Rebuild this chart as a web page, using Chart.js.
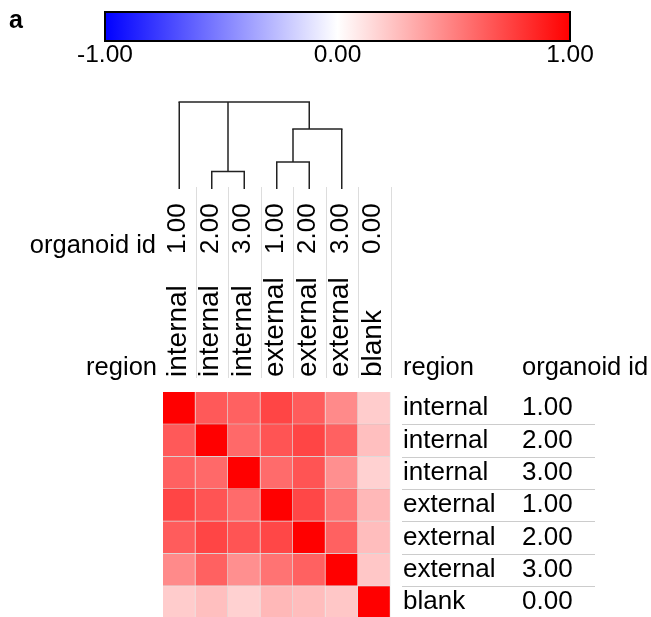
<!DOCTYPE html>
<html>
<head>
<meta charset="utf-8">
<script src="https://cdn.jsdelivr.net/npm/chart.js@4"></script>
<style>
  html, body { margin: 0; padding: 0; background: #fff; overflow: hidden; }
</style>
</head>
<body>
<canvas id="corr-heatmap" width="651" height="626"></canvas>
<script>
// samples (rows and columns share the same order)
var regions = ['internal', 'internal', 'internal', 'external', 'external', 'external', 'blank'];
var organoidIds = ['1.00', '2.00', '3.00', '1.00', '2.00', '3.00', '0.00'];

// correlation values, one row per sample
var corrInternal1 = [1.00, 0.65, 0.62, 0.73, 0.64, 0.46, 0.20];
var corrInternal2 = [0.65, 1.00, 0.59, 0.67, 0.73, 0.62, 0.25];
var corrInternal3 = [0.62, 0.59, 1.00, 0.58, 0.67, 0.44, 0.18];
var corrExternal1 = [0.73, 0.67, 0.58, 1.00, 0.72, 0.55, 0.28];
var corrExternal2 = [0.64, 0.73, 0.67, 0.72, 1.00, 0.62, 0.26];
var corrExternal3 = [0.46, 0.62, 0.44, 0.55, 0.62, 1.00, 0.22];
var corrBlank     = [0.20, 0.25, 0.18, 0.28, 0.26, 0.22, 1.00];
var corrMatrix = [corrInternal1, corrInternal2, corrInternal3, corrExternal1, corrExternal2, corrExternal3, corrBlank];

// colour scale
var scaleMin = -1;
var scaleMax = 1;
var scaleTicks = ['-1.00', '0.00', '1.00'];

// column dendrogram: children are column indexes or earlier node names, height 0..1
var dendroNodes = [
    { name: 'n0', children: [1, 2], height: 0.20 },
    { name: 'n1', children: [3, 4], height: 0.31 },
    { name: 'n2', children: ['n1', 5], height: 0.69 },
    { name: 'n3', children: [0, 'n0', 'n2'], height: 1.00 }
];

var FONT = '"Liberation Sans", Arial, Helvetica, sans-serif';

function corrColor(v) {
    if (v >= 0) {
        var c = Math.round(255 * (1 - v));
        return 'rgb(255,' + c + ',' + c + ')';
    }
    var b = Math.round(255 * (1 + v));
    return 'rgb(' + b + ',' + b + ',255)';
}

// labels, dendrogram and colour bar
var decorPlugin = {
    id: 'decor',
    afterDraw: function (chart) {
        var ctx = chart.ctx;
        var xs = chart.scales.x;
        var ys = chart.scales.y;
        var half = (xs.getPixelForValue(1) - xs.getPixelForValue(0)) / 2;
        var n = regions.length;

        ctx.save();
        ctx.fillStyle = '#000';

        // panel letter
        ctx.font = 'bold 25px ' + FONT;
        ctx.textAlign = 'left';
        ctx.textBaseline = 'middle';
        ctx.fillText('a', 9, 21);

        // colour bar
        var barL = 105, barR = 570, barT = 12, barB = 41;
        var grad = ctx.createLinearGradient(barL, 0, barR, 0);
        grad.addColorStop(0, corrColor(scaleMin));
        grad.addColorStop(0.5, corrColor(0));
        grad.addColorStop(1, corrColor(scaleMax));
        ctx.fillStyle = grad;
        ctx.fillRect(barL, barT, barR - barL, barB - barT);
        ctx.strokeStyle = '#000';
        ctx.lineWidth = 2;
        ctx.strokeRect(barL, barT, barR - barL, barB - barT);
        ctx.fillStyle = '#000';
        ctx.font = '24.5px ' + FONT;
        ctx.textAlign = 'center';
        scaleTicks.forEach(function (t, i) {
            var x = barL + (barR - barL) * i / (scaleTicks.length - 1);
            ctx.fillText(t, x, 55);
        });

        // vertical separators in the column label block
        ctx.strokeStyle = '#dddddd';
        ctx.lineWidth = 1;
        for (var i = 0; i < n; i++) {
            var sx = Math.round(xs.getPixelForValue(i) + half) + 0.5;
            ctx.beginPath();
            ctx.moveTo(sx, 187);
            ctx.lineTo(sx, 378);
            ctx.stroke();
        }

        // column labels (rotated)
        ctx.textAlign = 'left';
        ctx.textBaseline = 'middle';
        for (var c = 0; c < n; c++) {
            var cx = xs.getPixelForValue(c) - 1;
            ctx.save();
            ctx.translate(cx, 254);
            ctx.rotate(-Math.PI / 2);
            ctx.font = '26px ' + FONT;
            ctx.fillText(organoidIds[c], 0, 0);
            ctx.restore();
            ctx.save();
            ctx.translate(cx, 377);
            ctx.rotate(-Math.PI / 2);
            ctx.font = '28px ' + FONT;
            ctx.fillText(regions[c], 0, 0);
            ctx.restore();
        }

        // row header names on the left
        ctx.font = '25.5px ' + FONT;
        ctx.textAlign = 'right';
        ctx.fillText('organoid id', 156, 246);
        ctx.fillText('region', 157, 368);

        // dendrogram
        var leafY = 189, topY = 102;
        var nodes = {};
        function leafCount(ch) { return typeof ch === 'number' ? 1 : nodes[ch].count; }
        function posOf(ch) {
            if (typeof ch === 'number') return { x: xs.getPixelForValue(ch), y: leafY };
            return nodes[ch];
        }
        ctx.strokeStyle = '#222';
        ctx.lineWidth = 1.5;
        dendroNodes.forEach(function (nd) {
            var y = leafY - nd.height * (leafY - topY);
            var sum = 0, cnt = 0, minX = Infinity, maxX = -Infinity;
            nd.children.forEach(function (ch) {
                var p = posOf(ch);
                var k = leafCount(ch);
                sum += p.x * k;
                cnt += k;
                minX = Math.min(minX, p.x);
                maxX = Math.max(maxX, p.x);
                ctx.beginPath();
                ctx.moveTo(p.x, p.y);
                ctx.lineTo(p.x, y);
                ctx.stroke();
            });
            ctx.beginPath();
            ctx.moveTo(minX - 0.75, y);
            ctx.lineTo(maxX + 0.75, y);
            ctx.stroke();
            nodes[nd.name] = { x: sum / cnt, y: y, count: cnt };
        });

        // row labels on the right
        ctx.fillStyle = '#000';
        ctx.textAlign = 'left';
        ctx.font = '25.5px ' + FONT;
        ctx.fillText('region', 403, 368);
        ctx.fillText('organoid id', 522, 368);
        ctx.font = '26px ' + FONT;
        for (var r = 0; r < n; r++) {
            var ry = ys.getPixelForValue(r + 0.5);
            ctx.fillText(regions[r], 403, ry);
            ctx.fillText(organoidIds[r], 522, ry);
        }
        ctx.strokeStyle = '#cccccc';
        ctx.lineWidth = 1;
        for (var r2 = 1; r2 <= n; r2++) {
            var ly = Math.round(ys.getPixelForValue(r2)) + 0.5;
            ctx.beginPath();
            ctx.moveTo(402, ly);
            ctx.lineTo(595, ly);
            ctx.stroke();
        }
        ctx.restore();
    }
};

var ctx = document.getElementById('corr-heatmap');

var chart = new Chart(ctx, {
    type: 'bar',
    data: {
        labels: regions.map(function (r, i) { return r + ' ' + organoidIds[i]; }),
        // one dataset per heatmap row, each cell a floating bar spanning the row
        datasets: corrMatrix.map(function (row, r) {
            return {
                label: regions[r] + ' ' + organoidIds[r],
                data: row.map(function () { return [r, r + 1]; }),
                backgroundColor: row.map(corrColor),
                borderColor: 'rgba(0,0,0,0.13)',
                borderWidth: { top: 0, left: 0, right: 1, bottom: 1 },
                borderSkipped: false,
                barPercentage: 1,
                categoryPercentage: 1,
                grouped: false
            };
        })
    },
    options: {
        responsive: false,
        animation: false,
        layout: {
            padding: { left: 163, right: 260.5, top: 392, bottom: 7.5 }
        },
        scales: {
            x: { type: 'category', display: false, offset: true },
            y: { type: 'linear', display: false, min: 0, max: 7, reverse: true }
        },
        plugins: {
            legend: { display: false },
            tooltip: { enabled: false }
        }
    },
    plugins: [decorPlugin]
});
</script>
</body>
</html>
